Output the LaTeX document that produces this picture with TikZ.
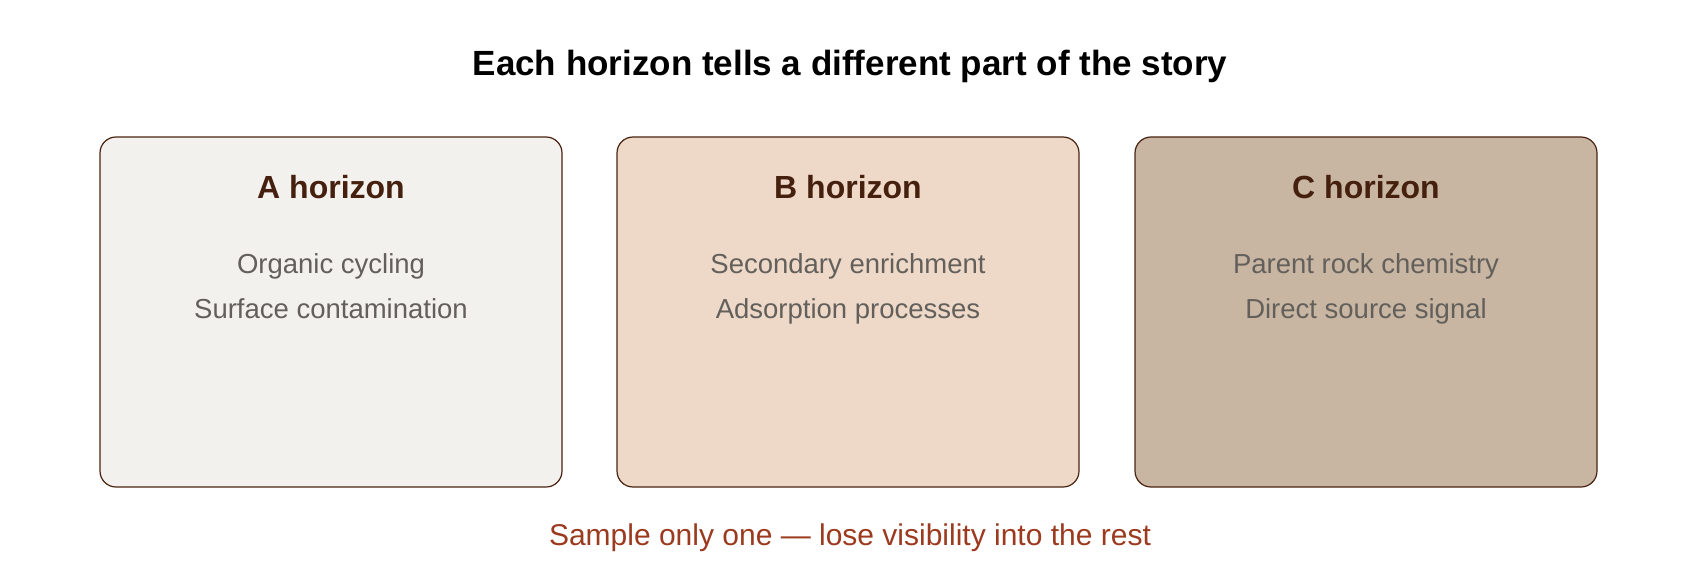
\documentclass[tikz,border=0pt]{standalone}
\usepackage{fontspec}
\setmainfont{Liberation Sans}
\usetikzlibrary{positioning}
\definecolor{soilA}{HTML}{F3F1ED}
\definecolor{soilB}{HTML}{EED9C8}
\definecolor{soilC}{HTML}{C8B6A2}
\definecolor{soilline}{HTML}{4A2412}
\definecolor{soilhead}{HTML}{45200E}
\definecolor{soiltext}{HTML}{63605C}
\definecolor{soilwarn}{HTML}{9B3A1E}
\begin{document}
\begin{tikzpicture}[x=1pt,y=-1pt, % soil horizons
  horizon/.style={draw=soilline, line width=1.2pt, rounded corners=16pt,
    minimum width=462pt, minimum height=350pt, inner sep=0pt},
  headtext/.style={anchor=base, text=soilhead, font=\fontsize{32}{38}\selectfont\bfseries},
  bodytext/.style={anchor=base, text=soiltext, font=\fontsize{27.5}{33}\selectfont}]
\useasboundingbox (0,0) rectangle (1700,575);
\node[anchor=base, font=\fontsize{35}{42}\selectfont\bfseries] (title) at (850,76) {Each horizon tells a different part of the story};
    \node[horizon, fill=soilA] (hA) at (331,312) {};
    \node[horizon, fill=soilB] (hB) at (848,312) {};
    \node[horizon, fill=soilC] (hC) at (1366,312) {};
    \node[headtext] (headA) at ([yshift=-62.5pt]hA.north) {A horizon};
    \node[headtext] (headB) at ([yshift=-62.5pt]hB.north) {B horizon};
    \node[headtext] (headC) at ([yshift=-62.5pt]hC.north) {C horizon};
    \node[bodytext] (a1) at ([yshift=-75pt]headA.base) {Organic cycling};
    \node[bodytext] (a2) at ([yshift=-45pt]a1.base) {Surface contamination};
    \node[bodytext] (b1) at ([yshift=-75pt]headB.base) {Secondary enrichment};
    \node[bodytext] (b2) at ([yshift=-45pt]b1.base) {Adsorption processes};
    \node[bodytext] (c1) at ([yshift=-75pt]headC.base) {Parent rock chemistry};
    \node[bodytext] (c2) at ([yshift=-45pt]c1.base) {Direct source signal};
\node[anchor=base, text=soilwarn, font=\fontsize{30}{36}\selectfont] (warn) at (850,545) {Sample only one — lose visibility into the rest};
\end{tikzpicture}
\end{document}
